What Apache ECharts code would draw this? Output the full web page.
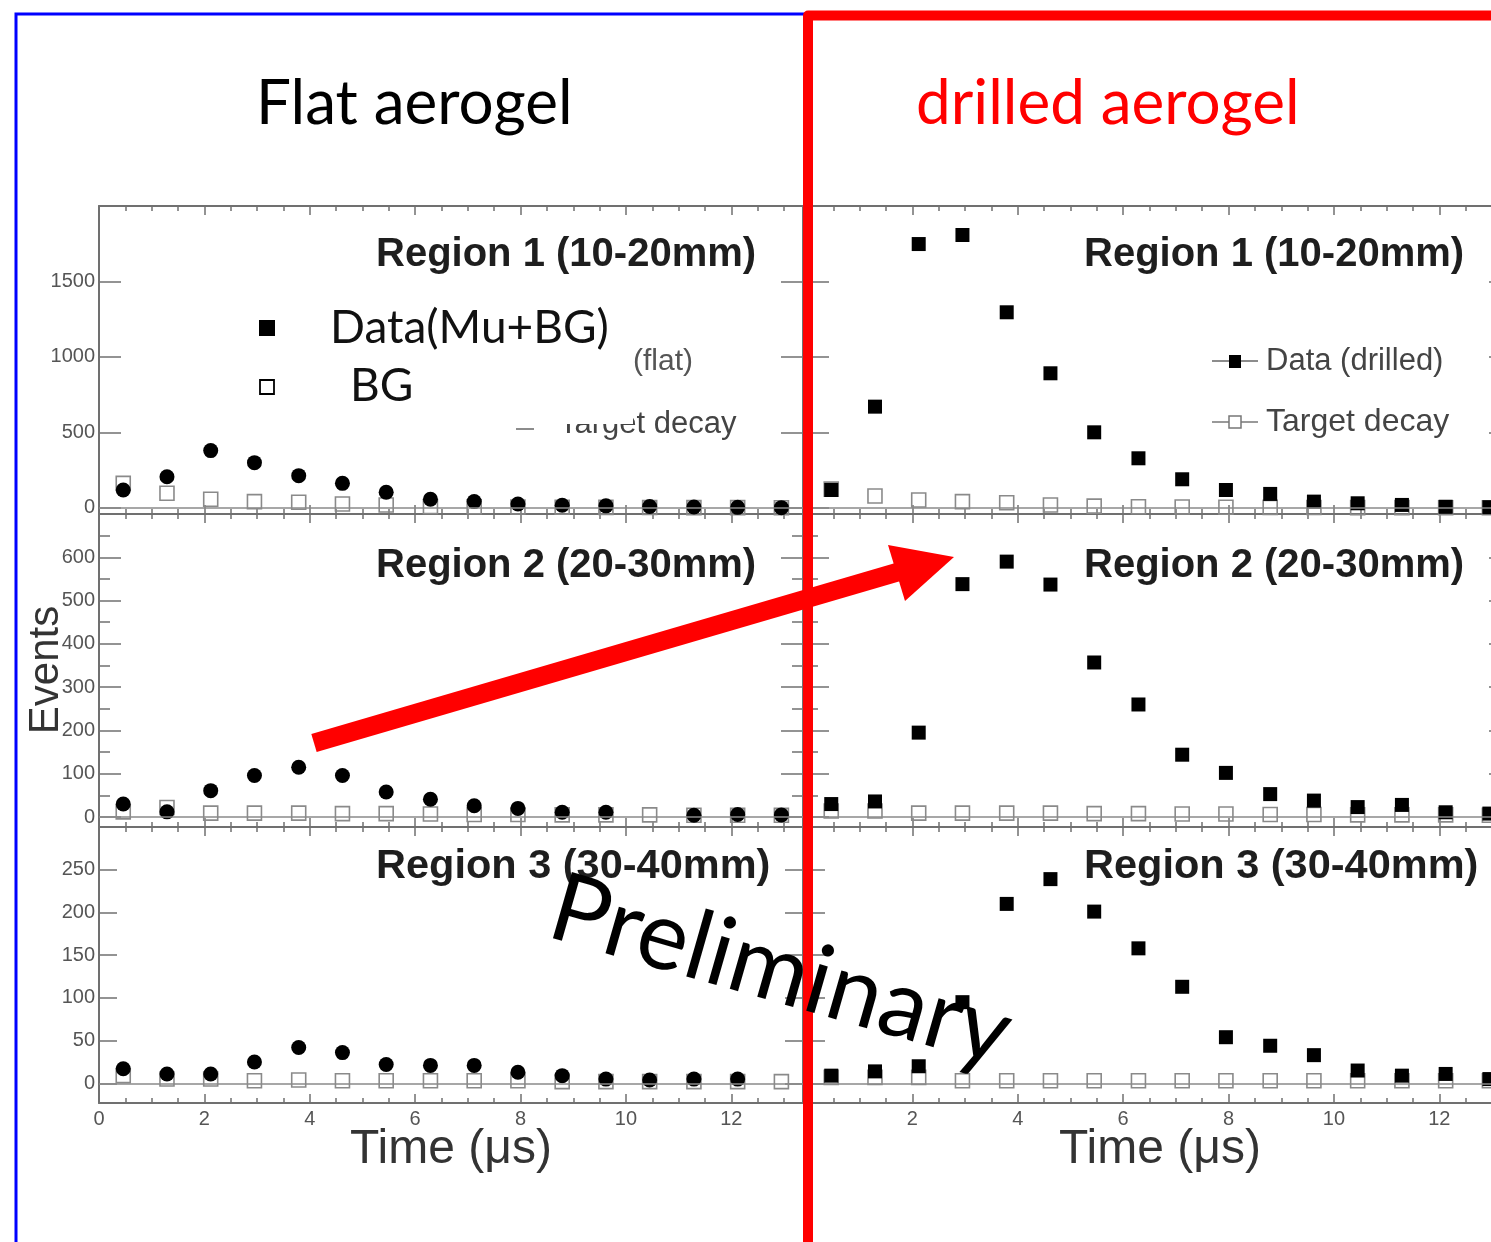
<!DOCTYPE html>
<html>
<head>
<meta charset="utf-8">
<script src="https://cdn.jsdelivr.net/npm/echarts@6/dist/echarts.min.js"></script>
<style>
html,body{margin:0;padding:0;background:#fff;overflow:hidden;width:1491px;height:1242px;}
#chart{width:1530px;height:1242px;}
</style>
</head>
<body>
<div id="chart"></div>
<script>
// ---- data ----
const timeBins = [0.46, 1.29, 2.12, 2.95, 3.79, 4.62, 5.45, 6.29, 7.12, 7.95, 8.79, 9.62, 10.45, 11.29, 12.12, 12.95];

const flatR1Data = [119, 207, 380, 300, 214, 163, 104, 58, 42, 26, 18, 14, 10, 6, 4, 2];
const flatR1BG   = [163, 97, 58, 42, 38, 26, 20, 10, 8, 6, 5, 4, 3, 2, 2, 1];
const flatR2Data = [30, 12, 61, 96, 115, 96, 58, 41, 26, 20, 11, 11, null, 4, 6, 5];
const flatR2BG   = [12, 22, 9, 9, 9, 8, 8, 7, 6, 6, 5, 5, 5, 4, 4, 4];
const flatR3Data = [17, 11, 11, 25, 42, 36, 22, 21, 21, 13, 9, 5, 4, 5, 5, null];
const flatR3BG   = [9, 5, 5, 3, 4, 3, 3, 3, 3, 3, 2, 2, 2, 2, 2, 2];

const drillR1Data = [119, 671, 1748, 1808, 1296, 892, 501, 329, 190, 119, 93, 42, 31, 20, 8, 5];
const drillR1BG   = [125, 79, 53, 42, 35, 20, 12, 8, 6, 5, 4, 3, 2, 2, 1, 1];
const drillR2Data = [30, 36, 195, 538, 590, 537, 357, 260, 144, 102, 53, 38, 23, 28, 11, 8];
const drillR2BG   = [14, 14, 9, 9, 9, 9, 8, 8, 7, 7, 6, 6, 5, 5, 5, 4];
const drillR3Data = [9, 14, 20, 95, 210, 239, 201, 158, 113, 54, 44, 33, 15, 9, 11, 5];
const drillR3BG   = [7, 7, 7, 3, 3, 3, 3, 3, 3, 3, 3, 3, 3, 3, 3, 3];

const xMajorTicks = [0, 2, 4, 6, 8, 10, 12];
const xLabelsLeft = [0, 2, 4, 6, 8, 10, 12];
const xLabelsRight = [2, 4, 6, 8, 10, 12];
const xMinorTicks = [0.5, 1, 1.5, 2.5, 3, 3.5, 4.5, 5, 5.5, 6.5, 7, 7.5, 8.5, 9, 9.5, 10.5, 11, 11.5, 12.5, 13];
const r1YMajor = [0, 500, 1000, 1500];
const r2YMajor = [0, 100, 200, 300, 400, 500, 600];
const r2YMinor = [50, 150, 250, 350, 450, 550, 650];
const r3YMajor = [0, 50, 100, 150, 200, 250];

const regionTitles = ['Region 1 (10-20mm)', 'Region 2 (20-30mm)', 'Region 3 (30-40mm)'];

// ---- layout ----
const panelTops = [206, 514, 827];
const panelHeights = [308, 313, 276];
const yRanges = [[-40, 2000], [-23, 700], [-23, 300]];
const yMajors = [r1YMajor, r2YMajor, r3YMajor];
const yMinors = [[], r2YMinor, []];
const yMajorLen = [22, 22, 18];

const panels = [
  {col: 0, row: 0, data: flatR1Data, bg: flatR1BG},
  {col: 0, row: 1, data: flatR2Data, bg: flatR2BG},
  {col: 0, row: 2, data: flatR3Data, bg: flatR3BG},
  {col: 1, row: 0, data: drillR1Data, bg: drillR1BG},
  {col: 1, row: 1, data: drillR2Data, bg: drillR2BG},
  {col: 1, row: 2, data: drillR3Data, bg: drillR3BG}
];

const frameColor = '#707070';
const grids = [], xAxes = [], yAxes = [], series = [];

panels.forEach((p, g) => {
  grids.push({left: p.col === 0 ? 99 : 807, top: panelTops[p.row], width: 704, height: panelHeights[p.row]});
  const showX = p.row === 2;
  const xBase = {type: 'value', gridIndex: g, min: 0, max: 13.36, splitLine: {show: false}};
  xAxes.push(Object.assign({}, xBase, {
    position: 'bottom',
    axisLine: {show: true, onZero: false, lineStyle: {color: frameColor, width: 2}},
    axisTick: {show: true, inside: true, length: 9, customValues: xMajorTicks, lineStyle: {color: frameColor, width: 1.5}},
    axisLabel: {show: showX, customValues: p.col === 0 ? xLabelsLeft : xLabelsRight, margin: 6, color: '#555', fontSize: 20, fontFamily: 'Liberation Sans'}
  }));
  xAxes.push(Object.assign({}, xBase, {
    position: 'bottom',
    axisLine: {show: false, onZero: false},
    axisTick: {show: true, inside: true, length: 5, customValues: xMinorTicks, lineStyle: {color: frameColor, width: 1.5}},
    axisLabel: {show: false}
  }));
  xAxes.push(Object.assign({}, xBase, {
    position: 'top',
    axisLine: {show: true, onZero: false, lineStyle: {color: frameColor, width: 2}},
    axisTick: {show: true, inside: true, length: 9, customValues: xMajorTicks, lineStyle: {color: frameColor, width: 1.5}},
    axisLabel: {show: false}
  }));
  xAxes.push(Object.assign({}, xBase, {
    position: 'top',
    axisLine: {show: false, onZero: false},
    axisTick: {show: true, inside: true, length: 5, customValues: xMinorTicks, lineStyle: {color: frameColor, width: 1.5}},
    axisLabel: {show: false}
  }));

  const yBase = {type: 'value', gridIndex: g, min: yRanges[p.row][0], max: yRanges[p.row][1], splitLine: {show: false}};
  const showY = p.col === 0;
  yAxes.push(Object.assign({}, yBase, {
    position: 'left',
    axisLine: {show: true, onZero: false, lineStyle: {color: frameColor, width: 2}},
    axisTick: {show: true, inside: true, length: yMajorLen[p.row], customValues: yMajors[p.row], lineStyle: {color: frameColor, width: 1.5}},
    axisLabel: {show: showY, customValues: yMajors[p.row], margin: 4, color: '#555', fontSize: 20, fontFamily: 'Liberation Sans',
      formatter: v => String(v)}
  }));
  yAxes.push(Object.assign({}, yBase, {
    position: 'left',
    axisLine: {show: false, onZero: false},
    axisTick: {show: yMinors[p.row].length > 0, inside: true, length: 11, customValues: yMinors[p.row], lineStyle: {color: frameColor, width: 1.5}},
    axisLabel: {show: false}
  }));
  yAxes.push(Object.assign({}, yBase, {
    position: 'right',
    axisLine: {show: true, onZero: false, lineStyle: {color: frameColor, width: 2}},
    axisTick: {show: true, inside: true, length: yMajorLen[p.row], customValues: yMajors[p.row], lineStyle: {color: frameColor, width: 1.5}},
    axisLabel: {show: false}
  }));
  yAxes.push(Object.assign({}, yBase, {
    position: 'right',
    axisLine: {show: false, onZero: false},
    axisTick: {show: yMinors[p.row].length > 0, inside: true, length: 11, customValues: yMinors[p.row], lineStyle: {color: frameColor, width: 1.5}},
    axisLabel: {show: false}
  }));

  const pairs = (vals) => timeBins.map((t, i) => [t, vals[i]]).filter(d => d[1] !== null);
  series.push({
    type: 'scatter', xAxisIndex: 4 * g, yAxisIndex: 4 * g, z: 3,
    symbol: 'rect', symbolSize: 14,
    itemStyle: {color: 'rgba(255,255,255,0)', borderColor: '#8a8a8a', borderWidth: 1.6, opacity: 1},
    data: pairs(p.bg),
    markLine: {silent: true, symbol: 'none', label: {show: false}, animation: false,
      lineStyle: {color: '#8a8a8a', width: 1.6, type: 'solid'}, data: [{yAxis: 0}]}
  });
  series.push({
    type: 'scatter', xAxisIndex: 4 * g, yAxisIndex: 4 * g, z: 4,
    symbol: p.col === 0 ? 'circle' : 'rect', symbolSize: p.col === 0 ? 15 : 14,
    itemStyle: {color: '#000', opacity: 1},
    data: pairs(p.data)
  });
});

// ---- annotations ----
const presFont = 'Lato';
const graphic = [];
function txt(x, y, text, size, color, family, weight, align, extra) {
  graphic.push(Object.assign({type: 'text', x: x, y: y, z: 50,
    style: {text: text, fontSize: size, fill: color, fontFamily: family, fontWeight: weight || 'normal',
      textAlign: align || 'left', textVerticalAlign: 'middle'}}, extra || {}));
}
[0, 1, 2].forEach(r => {
  const y = [255, 566, 867][r];
  const fs = r === 2 ? 41.5 : 40;
  txt(376, y, regionTitles[r], fs, '#1e1e1e', 'Liberation Sans', 'bold');
  txt(1084, y, regionTitles[r], fs, '#1e1e1e', 'Liberation Sans', 'bold');
});
// old partially hidden ROOT legend in the flat panel
txt(633, 362, '(flat)', 30, '#555', 'Liberation Sans');
txt(559, 424, 'Target decay', 31, '#444', 'Liberation Sans');
graphic.push({type: 'line', z: 50, shape: {x1: 516, y1: 429, x2: 534, y2: 429}, style: {stroke: '#666', lineWidth: 1.5}});
graphic.push({type: 'rect', z: 51, shape: {x: 505, y: 392, width: 128, height: 32}, style: {fill: '#fff'}});
// new legend (flat)
graphic.push({type: 'rect', z: 52, shape: {x: 259, y: 320, width: 16, height: 16}, style: {fill: '#000'}});
graphic.push({type: 'rect', z: 52, shape: {x: 260, y: 380, width: 14, height: 14}, style: {fill: '#fff', stroke: '#000', lineWidth: 1.8}});
txt(330, 328, 'Data(Mu+BG)', 46, '#111', presFont, 'normal', 'left', {z: 52});
txt(350, 386, 'BG', 46, '#111', presFont, 'normal', 'left', {z: 52});
// drilled legend
graphic.push({type: 'line', z: 50, shape: {x1: 1212, y1: 361, x2: 1258, y2: 361}, style: {stroke: '#666', lineWidth: 1.6}});
graphic.push({type: 'rect', z: 51, shape: {x: 1229, y: 355, width: 12, height: 13}, style: {fill: '#000'}});
txt(1266, 361, 'Data (drilled)', 31, '#444', 'Liberation Sans');
graphic.push({type: 'line', z: 50, shape: {x1: 1212, y1: 422, x2: 1258, y2: 422}, style: {stroke: '#777', lineWidth: 1.6}});
graphic.push({type: 'rect', z: 51, shape: {x: 1229, y: 416, width: 12, height: 12}, style: {fill: '#fff', stroke: '#777', lineWidth: 1.5}});
txt(1266, 422, 'Target decay', 32, '#444', 'Liberation Sans');
// axis titles
txt(451, 1150, 'Time (\u03bcs)', 48, '#333', 'Liberation Sans', 'normal', 'center');
txt(1160, 1150, 'Time (\u03bcs)', 48, '#333', 'Liberation Sans', 'normal', 'center');
txt(46, 670, 'Events', 42, '#333', 'Liberation Sans', 'normal', 'center', {rotation: Math.PI / 2});
// headings
txt(256, 104, 'Flat aerogel', 62, '#000', presFont);
txt(916, 104, 'drilled aerogel', 62, '#ff0000', presFont);
// frames
graphic.push({type: 'polyline', z: 60, shape: {points: [[16, 1250], [16, 14], [806, 14]]}, style: {stroke: '#0000ff', lineWidth: 3, fill: null}});
graphic.push({type: 'polyline', z: 61, shape: {points: [[808, 1260], [808, 15.5], [1540, 15.5]]}, style: {stroke: '#ff0000', lineWidth: 10, lineJoin: 'round', fill: null}});
// red arrow
graphic.push({type: 'line', z: 62, shape: {x1: 314, y1: 743, x2: 898, y2: 572}, style: {stroke: '#ff0000', lineWidth: 19}});
graphic.push({type: 'polygon', z: 62, shape: {points: [[888, 545], [954, 557], [905, 601]]}, style: {fill: '#ff0000'}});
// Preliminary
txt(553, 906, 'Preliminary', 96, '#000', presFont, 'normal', 'left', {z: 63, rotation: -16 * Math.PI / 180});

const chart = echarts.init(document.getElementById('chart'));
chart.setOption({
  animation: false,
  backgroundColor: '#fff',
  grid: grids,
  xAxis: xAxes,
  yAxis: yAxes,
  series: series,
  graphic: graphic
});
</script>
</body>
</html>
